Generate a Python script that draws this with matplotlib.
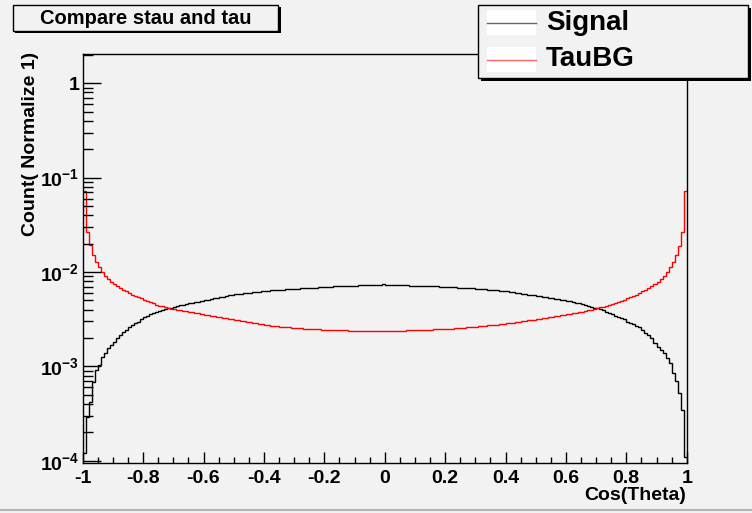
import matplotlib.pyplot as plt
import numpy as np
from matplotlib.patches import Rectangle
from matplotlib.lines import Line2D
from matplotlib.ticker import FixedLocator, FuncFormatter, MultipleLocator

plt.rcParams['font.family'] = ['Liberation Sans', 'DejaVu Sans']
plt.rcParams['font.weight'] = 'bold'
plt.rcParams['mathtext.fontset'] = 'custom'
plt.rcParams['mathtext.rm'] = 'Liberation Sans:bold'
plt.rcParams['mathtext.bf'] = 'Liberation Sans:bold'
plt.rcParams['mathtext.default'] = 'bf'

# cos(theta) histograms, 200 bins on [-1, 1], each normalised to 1
edges = np.linspace(-1, 1, 201)

signal = np.array([
    0.12, 0.29, 0.42, 0.69, 0.92, 1.04, 1.27, 1.38, 1.56, 1.69,
    1.83, 1.99, 2.16, 2.30, 2.44, 2.60, 2.75, 2.91, 2.98, 3.16,
    3.32, 3.43, 3.57, 3.66, 3.78, 3.87, 3.95, 4.03, 4.12, 4.20,
    4.30, 4.37, 4.45, 4.52, 4.58, 4.65, 4.72, 4.78, 4.86, 4.94,
    5.02, 5.10, 5.18, 5.26, 5.35, 5.42, 5.50, 5.58, 5.66, 5.74,
    5.82, 5.86, 5.91, 5.97, 6.01, 6.06, 6.10, 6.15, 6.20, 6.25,
    6.30, 6.35, 6.38, 6.42, 6.44, 6.48, 6.51, 6.55, 6.58, 6.62,
    6.65, 6.68, 6.73, 6.75, 6.78, 6.80, 6.83, 6.86, 6.88, 6.92,
    6.95, 6.98, 7.01, 7.05, 7.08, 7.10, 7.12, 7.14, 7.16, 7.18,
    7.20, 7.22, 7.23, 7.25, 7.25, 7.26, 7.26, 7.27, 7.32, 7.40,
    7.27, 7.26, 7.26, 7.25, 7.25, 7.24, 7.23, 7.22, 7.20, 7.19,
    7.17, 7.16, 7.14, 7.12, 7.10, 7.09, 7.07, 7.05, 7.02, 7.00,
    6.97, 6.94, 6.91, 6.88, 6.85, 6.82, 6.80, 6.77, 6.74, 6.70,
    6.66, 6.63, 6.60, 6.57, 6.53, 6.50, 6.46, 6.42, 6.36, 6.30,
    6.25, 6.19, 6.12, 6.06, 5.99, 5.92, 5.85, 5.78, 5.72, 5.65,
    5.58, 5.52, 5.46, 5.40, 5.34, 5.28, 5.21, 5.15, 5.08, 5.02,
    4.96, 4.90, 4.83, 4.76, 4.68, 4.60, 4.50, 4.40, 4.30, 4.20,
    4.12, 4.02, 3.92, 3.80, 3.68, 3.56, 3.44, 3.32, 3.24, 3.16,
    2.98, 2.91, 2.82, 2.70, 2.60, 2.44, 2.28, 2.16, 1.99, 1.76,
    1.62, 1.50, 1.38, 1.22, 1.08, 0.859, 0.702, 0.52, 0.346, 0.111,
]) * 1e-3

taubg = np.array([
    72.0, 26.8, 19.4, 15.2, 12.9, 11.2, 10.1, 9.16, 8.45, 7.90,
    7.48, 7.13, 6.85, 6.52, 6.26, 6.02, 5.77, 5.54, 5.40, 5.27,
    5.10, 4.98, 4.82, 4.67, 4.52, 4.42, 4.34, 4.24, 4.16, 4.08,
    4.03, 3.98, 3.93, 3.88, 3.84, 3.79, 3.74, 3.70, 3.65, 3.60,
    3.55, 3.50, 3.46, 3.41, 3.37, 3.32, 3.28, 3.23, 3.19, 3.15,
    3.11, 3.07, 3.04, 3.00, 2.96, 2.93, 2.89, 2.86, 2.83, 2.79,
    2.76, 2.73, 2.71, 2.69, 2.67, 2.65, 2.63, 2.62, 2.60, 2.58,
    2.56, 2.55, 2.54, 2.52, 2.51, 2.50, 2.49, 2.48, 2.47, 2.46,
    2.45, 2.45, 2.44, 2.44, 2.43, 2.42, 2.42, 2.41, 2.40, 2.40,
    2.39, 2.39, 2.38, 2.38, 2.38, 2.37, 2.38, 2.37, 2.38, 2.38,
    2.38, 2.38, 2.39, 2.39, 2.39, 2.40, 2.40, 2.41, 2.41, 2.42,
    2.42, 2.43, 2.44, 2.44, 2.45, 2.46, 2.47, 2.48, 2.49, 2.50,
    2.50, 2.51, 2.52, 2.54, 2.55, 2.56, 2.58, 2.61, 2.62, 2.64,
    2.65, 2.67, 2.68, 2.70, 2.72, 2.73, 2.75, 2.78, 2.80, 2.83,
    2.86, 2.89, 2.92, 2.95, 2.98, 3.01, 3.04, 3.07, 3.10, 3.13,
    3.16, 3.20, 3.24, 3.28, 3.32, 3.36, 3.41, 3.46, 3.50, 3.55,
    3.58, 3.62, 3.67, 3.72, 3.77, 3.82, 3.88, 3.94, 4.00, 4.07,
    4.14, 4.22, 4.30, 4.40, 4.50, 4.60, 4.72, 4.85, 4.98, 5.10,
    5.27, 5.40, 5.54, 5.77, 6.02, 6.26, 6.52, 6.85, 7.13, 7.48,
    7.90, 8.45, 9.16, 10.1, 11.2, 12.9, 15.0, 19.0, 26.8, 72.0,
]) * 1e-3

names = ["Signal", "TauBG"]
colors = ["black", "red"]
title = "Compare stau and tau"
xlabel = "Cos(Theta)"
ylabel = "Count( Normalize 1)"

W, H = 752, 513
bg = '#f2f2f2'
fig = plt.figure(figsize=(W / 100, H / 100), dpi=100, facecolor=bg)


def fx(x):
    return x / W


def fy(y):
    return 1 - y / H


ax = fig.add_axes([fx(82.7), fy(463), fx(686.7) - fx(82.7), fy(54) - fy(463)])
ax.set_facecolor(bg)

for vals, c in zip([signal, taubg], colors):
    ax.stairs(vals, edges, baseline=None, color=c, lw=1.0)

ax.set_yscale('log')
ax.set_xlim(-1, 1)
ax.set_ylim(9.5e-5, 2.04)

for s in ax.spines.values():
    s.set_linewidth(1.0)
    s.set_zorder(3)

# x ticks: labels every 0.2, small ticks every 0.05
ax.xaxis.set_major_locator(MultipleLocator(0.2))
ax.xaxis.set_minor_locator(MultipleLocator(0.05))
ax.xaxis.set_major_formatter(FuncFormatter(lambda v, p: "%g" % round(v, 2) if abs(v) > 1e-9 else "0"))
ax.tick_params(axis='x', which='major', direction='in', length=8, width=1,
               labelsize=14, pad=5, top=False)
ax.tick_params(axis='x', which='minor', direction='in', length=4, width=1, top=False)

decades = [1e-4, 1e-3, 1e-2, 1e-1, 1]
ax.yaxis.set_major_locator(FixedLocator(decades))
ax.yaxis.set_minor_locator(FixedLocator([m * d for d in decades[:-1] for m in range(2, 10)] + [2.0]))
ax.yaxis.set_major_formatter(FuncFormatter(
    lambda v, p: "1" if v == 1 else r"$\mathbf{10^{%d}}$" % round(np.log10(v))))
ax.yaxis.set_minor_formatter(FuncFormatter(lambda v, p: ""))
ax.tick_params(axis='y', which='major', direction='in', length=13, width=1,
               labelsize=14, pad=2.5, right=False)
ax.tick_params(axis='y', which='minor', direction='in', length=7, width=1, right=False)
for lab in ax.get_xticklabels() + ax.get_yticklabels():
    lab.set_fontweight('bold')

fig.text(fx(686), fy(495), xlabel, ha='right', va='center', fontsize=14, fontweight='bold')
fig.text(fx(31), fy(52), ylabel, ha='center', va='top', rotation=90,
         fontsize=14, fontweight='bold')

# title box with drop shadow
fig.patches.append(Rectangle((fx(15), fy(33)), fx(281) - fx(15), fy(7) - fy(33),
                             transform=fig.transFigure, facecolor='black', edgecolor='none', zorder=5))
fig.patches.append(Rectangle((fx(13), fy(31)), fx(278) - fx(13), fy(5) - fy(31),
                             transform=fig.transFigure, facecolor=bg, edgecolor='black', lw=1, zorder=6))
fig.text(fx(145.5), fy(18), title, ha='center', va='center', fontsize=14.5,
         fontweight='bold', zorder=7)

# legend box with drop shadow
fig.patches.append(Rectangle((fx(481), fy(81)), fx(751) - fx(481), fy(8) - fy(81),
                             transform=fig.transFigure, facecolor='black', edgecolor='none', zorder=5))
fig.patches.append(Rectangle((fx(478), fy(78)), fx(748) - fx(478), fy(5) - fy(78),
                             transform=fig.transFigure, facecolor=bg, edgecolor='black', lw=1, zorder=6))
for i, (name, c) in enumerate(zip(names, colors)):
    yc = 22.5 + 37 * i
    fig.patches.append(Rectangle((fx(487), fy(yc + 12.5)), fx(536) - fx(487), fy(yc - 12.5) - fy(yc + 12.5),
                                 transform=fig.transFigure, facecolor='white', edgecolor='none', zorder=7))
    fig.lines.append(Line2D([fx(487), fx(536)], [fy(yc), fy(yc)], transform=fig.transFigure,
                            color=c, lw=1.0, alpha=0.6, zorder=8))
    fig.text(fx(546), fy(yc), name, ha='left', va='center', fontsize=20,
             fontweight='bold', zorder=8)

# bottom edge of the canvas
fig.lines.append(Line2D([0, 1], [fy(510), fy(510)], transform=fig.transFigure,
                        color='#b4b4b4', lw=1.5))

fig.savefig("out.png", dpi=100, facecolor=bg)
